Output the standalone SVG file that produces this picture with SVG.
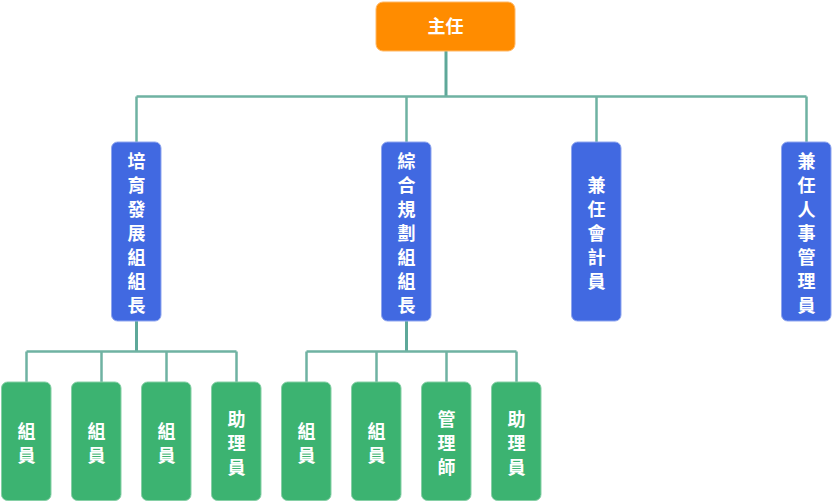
<svg xmlns="http://www.w3.org/2000/svg" width="832" height="502" viewBox="0 0 832 502">
<style>
.t{font-family:"Noto Sans CJK TC","Noto Sans CJK SC",sans-serif;font-size:18px;font-weight:bold;fill:#fff;text-anchor:middle}
.o{fill:#ff8c00;stroke:#ffb866;stroke-width:1}
.b{fill:#4169e1;stroke:#8fa6ef;stroke-width:1}
.g{fill:#3cb371;stroke:#86d0a6;stroke-width:1}
.c{fill:none;stroke:#6fb2a2;stroke-width:2.5}
.v{fill:none;stroke:#5ea899;stroke-width:3}
</style>
<rect width="832" height="502" fill="#fff"/>
<g id="connectors">
<path class="v" d="M446 51V96.5"/>
<path class="c" d="M136.5 96.5H806.5M136.5 96.5V142M406.5 96.5V142M596.5 96.5V142M806.5 96.5V142"/>
<path class="v" d="M136.5 321V351.5"/>
<path class="c" d="M26.5 351.5H236.5M26.5 351.5V382M101.5 351.5V382M166.5 351.5V382M236.5 351.5V382"/>
<path class="v" d="M406.5 321V351.5"/>
<path class="c" d="M306.5 351.5H516.5M306.5 351.5V382M376.5 351.5V382M446.5 351.5V382M516.5 351.5V382"/>
</g>
<g id="n0"><rect class="o" x="376" y="2" width="139" height="49" rx="7"/><text class="t" x="445.5" y="33">主任</text></g>
<g id="n1"><rect class="b" x="111.5" y="142" width="49.5" height="179" rx="6"/><text class="t" x="136.5"><tspan x="136.5" y="168">培</tspan><tspan x="136.5" y="192">育</tspan><tspan x="136.5" y="216">發</tspan><tspan x="136.5" y="240">展</tspan><tspan x="136.5" y="264">組</tspan><tspan x="136.5" y="288">組</tspan><tspan x="136.5" y="312">長</tspan></text></g>
<g id="n2"><rect class="b" x="381.5" y="142" width="49.5" height="179" rx="6"/><text class="t" x="406.5"><tspan x="406.5" y="168">綜</tspan><tspan x="406.5" y="192">合</tspan><tspan x="406.5" y="216">規</tspan><tspan x="406.5" y="240">劃</tspan><tspan x="406.5" y="264">組</tspan><tspan x="406.5" y="288">組</tspan><tspan x="406.5" y="312">長</tspan></text></g>
<g id="n3"><rect class="b" x="571.5" y="142" width="49.5" height="179" rx="6"/><text class="t" x="596.5"><tspan x="596.5" y="192">兼</tspan><tspan x="596.5" y="216">任</tspan><tspan x="596.5" y="240">會</tspan><tspan x="596.5" y="264">計</tspan><tspan x="596.5" y="288">員</tspan></text></g>
<g id="n4"><rect class="b" x="781.5" y="142" width="49.5" height="179" rx="6"/><text class="t" x="806.5"><tspan x="806.5" y="168">兼</tspan><tspan x="806.5" y="192">任</tspan><tspan x="806.5" y="216">人</tspan><tspan x="806.5" y="240">事</tspan><tspan x="806.5" y="264">管</tspan><tspan x="806.5" y="288">理</tspan><tspan x="806.5" y="312">員</tspan></text></g>
<g id="n5"><rect class="g" x="1.5" y="382" width="49.5" height="118.5" rx="6"/><text class="t"><tspan x="26.5" y="438">組</tspan><tspan x="26.5" y="462">員</tspan></text></g>
<g id="n6"><rect class="g" x="71.5" y="382" width="49.5" height="118.5" rx="6"/><text class="t"><tspan x="96.5" y="438">組</tspan><tspan x="96.5" y="462">員</tspan></text></g>
<g id="n7"><rect class="g" x="141.5" y="382" width="49.5" height="118.5" rx="6"/><text class="t"><tspan x="166.5" y="438">組</tspan><tspan x="166.5" y="462">員</tspan></text></g>
<g id="n8"><rect class="g" x="211.5" y="382" width="49.5" height="118.5" rx="6"/><text class="t"><tspan x="236.5" y="426">助</tspan><tspan x="236.5" y="450">理</tspan><tspan x="236.5" y="474">員</tspan></text></g>
<g id="n9"><rect class="g" x="281.5" y="382" width="49.5" height="118.5" rx="6"/><text class="t"><tspan x="306.5" y="438">組</tspan><tspan x="306.5" y="462">員</tspan></text></g>
<g id="n10"><rect class="g" x="351.5" y="382" width="49.5" height="118.5" rx="6"/><text class="t"><tspan x="376.5" y="438">組</tspan><tspan x="376.5" y="462">員</tspan></text></g>
<g id="n11"><rect class="g" x="421.5" y="382" width="49.5" height="118.5" rx="6"/><text class="t"><tspan x="446.5" y="426">管</tspan><tspan x="446.5" y="450">理</tspan><tspan x="446.5" y="474">師</tspan></text></g>
<g id="n12"><rect class="g" x="491.5" y="382" width="49.5" height="118.5" rx="6"/><text class="t"><tspan x="516.5" y="426">助</tspan><tspan x="516.5" y="450">理</tspan><tspan x="516.5" y="474">員</tspan></text></g>
</svg>
